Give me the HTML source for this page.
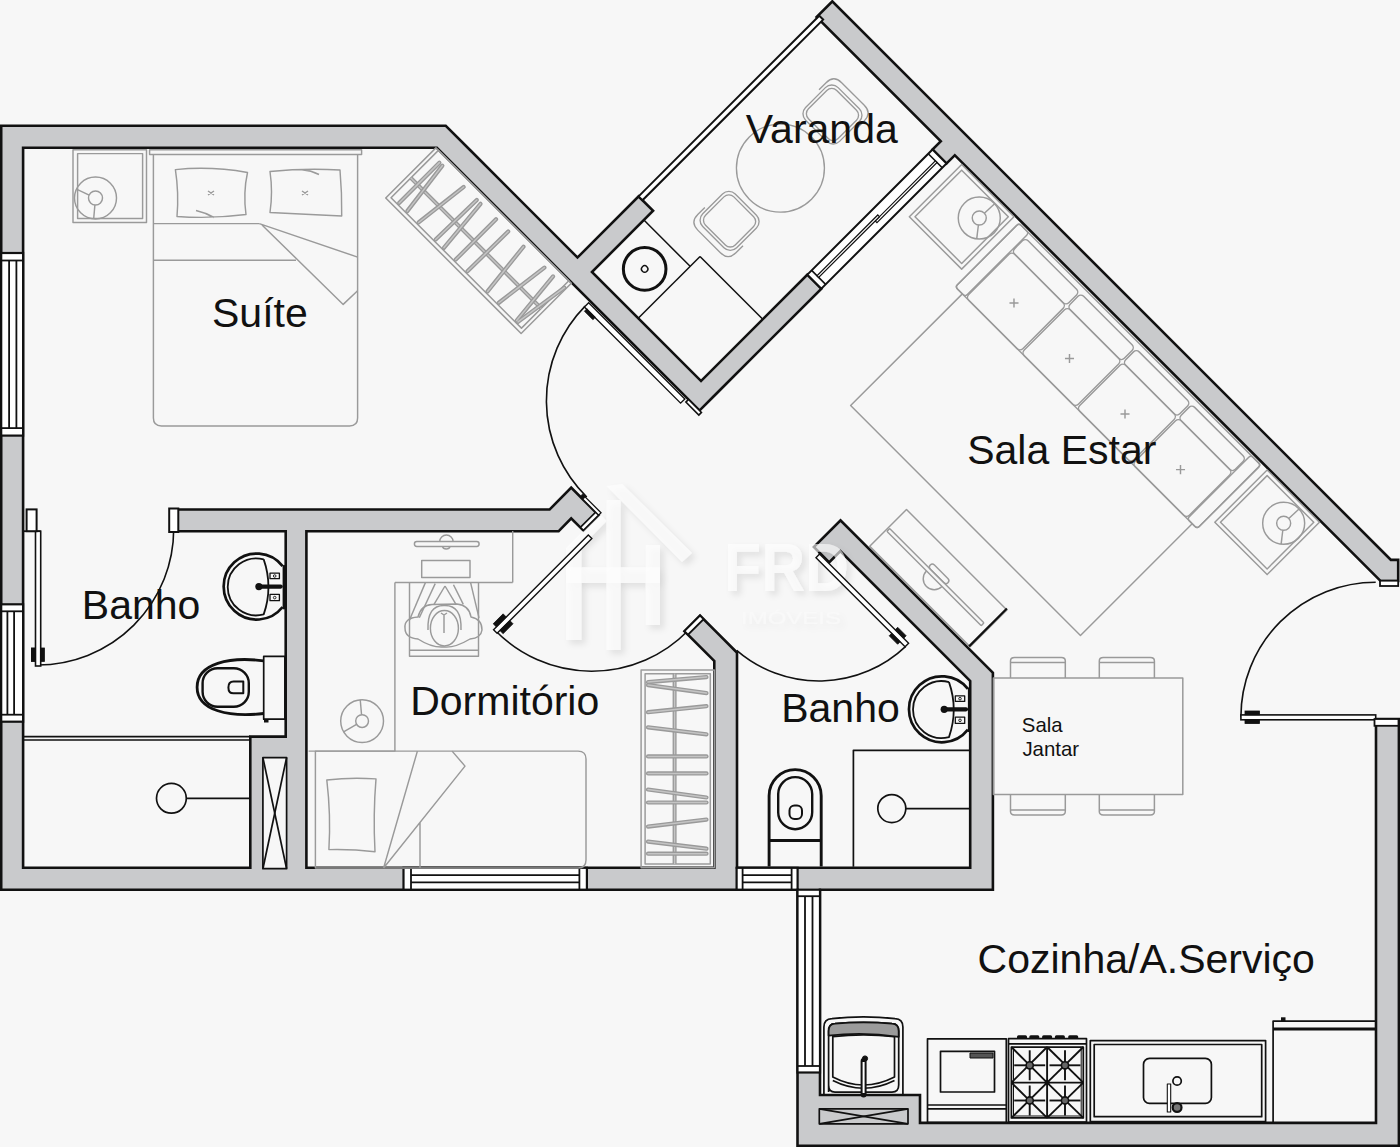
<!DOCTYPE html>
<html><head><meta charset="utf-8"><title>Planta</title>
<style>html,body{margin:0;padding:0;background:#f7f7f7;}body{width:1400px;height:1147px;overflow:hidden;font-family:"Liberation Sans",sans-serif;}svg{display:block;}</style>
</head><body><svg width="1400" height="1147" viewBox="0 0 1400 1147"><path d="M470.95 149.1 L470.95 149.1 L446.25 124.4 L-0.1 124.4 L-0.1 891 L796.2 891 L796.2 1147 L1400.2 1147 L1400.2 717.7 L1374.7 717.7 L1374.7 1121.6 L921.3 1121.6 L921.3 1093.7 L821.3 1093.7 L821.3 891 L994.2 891 L994.2 672.2 L840.53 518.53 L812.03 547.03 L829.15 564.14 L840.32 552.97 L968.9 681.55 L968.9 866.5 L738.3 866.5 L738.3 652.05 L715.22 628.97 L700.03 613.78 L682.63 631.18 L713 661.54 L713 866.5 L307.7 866.5 L307.7 532.5 L559.15 532.5 L571.21 520.15 L583.4 532.34 L600.54 515.2 L571.2 485.86 L549.06 508.2 L172.4 508.2 L172.4 532.5 L284.4 532.5 L284.4 735.3 L249 735.3 L249 866.5 L24.4 866.5 L24.4 149.1 L436.31 149.1 L699.53 412.33 L717.21 394.65 L717.21 394.65 L823.21 288.65 L807.37 272.81 L701.02 379.16 L593.82 271.97 L654.91 210.87 L638.58 194.54 L577.49 255.63 Z M1380.04 582.3 L1399.5 582.3 L1399.5 558.6 L1391.41 558.6 L832.33 -0.48 L814.79 17.05 L938.96 141.22 L930.69 149.49 L946.52 165.33 L954.8 157.06 Z" fill="#111111" fill-rule="evenodd"/><path d="M445.18 127 L2.5 127 L2.5 888.4 L798.8 888.4 L798.8 1144.4 L1397.6 1144.4 L1397.6 720.3 L1377.3 720.3 L1377.3 1124.2 L918.7 1124.2 L918.7 1096.3 L818.7 1096.3 L818.7 888.4 L991.6 888.4 L991.6 673.28 L840.53 522.21 L815.71 547.03 L829.15 560.47 L840.32 549.29 L971.5 680.48 L971.5 869.1 L735.7 869.1 L735.7 653.13 L715.6 633.03 L715.6 633.03 L700.03 617.46 L686.31 631.18 L715.6 660.47 L715.6 869.1 L305.1 869.1 L305.1 529.9 L558.05 529.9 L571.19 516.45 L583.4 528.66 L596.86 515.2 L571.2 489.54 L550.14 510.8 L175 510.8 L175 529.9 L287 529.9 L287 737.9 L251.6 737.9 L251.6 869.1 L21.8 869.1 L21.8 146.5 L437.38 146.5 L699.53 408.65 L712.82 395.36 L712.82 395.36 L819.53 288.65 L807.37 276.49 L701.02 382.84 L590.14 271.97 L651.24 210.87 L638.58 198.21 L577.49 259.31 L466.9 148.72 Z M1381.11 579.7 L1396.9 579.7 L1396.9 561.2 L1390.33 561.2 L832.33 3.19 L818.47 17.05 L942.64 141.22 L934.36 149.49 L946.52 161.66 L954.8 153.38 Z" fill="#c9cacc" fill-rule="evenodd"/><defs><filter id="sh" x="-20%" y="-20%" width="140%" height="140%"><feGaussianBlur in="SourceAlpha" stdDeviation="3.2"/><feOffset dx="4" dy="4" result="b"/><feFlood flood-color="#000" flood-opacity="0.15"/><feComposite in2="b" operator="in"/><feMerge><feMergeNode/><feMergeNode in="SourceGraphic"/></feMerge></filter></defs><g filter="url(#sh)" fill="#ffffff" fill-opacity="0.6" stroke="none"><rect x="566" y="548" width="15.4" height="92"/><rect x="606.5" y="500" width="14.1" height="150"/><rect x="645.8" y="545" width="14.2" height="80"/><rect x="566" y="567.3" width="94" height="15.7"/><polygon points="606.5,486 622.2,484.1 692,553 682,562 620.6,500"/><polygon points="566,548 600,514 606.5,521 581.4,547"/><text x="724" y="591" font-size="68" font-weight="bold" font-family="Liberation Sans" textLength="125" lengthAdjust="spacingAndGlyphs">FRD</text><text x="741" y="624" font-size="16" opacity="0.5" font-family="Liberation Sans" textLength="100" lengthAdjust="spacingAndGlyphs">IMÓVEIS</text></g><rect x="1.2" y="253" width="21.9" height="182.6" fill="#fff" stroke="#111111" stroke-width="2.2"/><line x1="1.2" y1="260.5" x2="23.1" y2="260.5" stroke="#111111" stroke-width="1.8"/><line x1="1.2" y1="428.1" x2="23.1" y2="428.1" stroke="#111111" stroke-width="1.8"/><line x1="9.1" y1="260.5" x2="9.1" y2="428.1" stroke="#111111" stroke-width="1.8"/><line x1="16.4" y1="260.5" x2="16.4" y2="428.1" stroke="#111111" stroke-width="1.8"/><rect x="1.2" y="604.3" width="21.9" height="117.4" fill="#fff" stroke="#111111" stroke-width="2.2"/><line x1="1.2" y1="611.3" x2="23.1" y2="611.3" stroke="#111111" stroke-width="1.8"/><line x1="1.2" y1="714.7" x2="23.1" y2="714.7" stroke="#111111" stroke-width="1.8"/><line x1="7.4" y1="611.3" x2="7.4" y2="714.7" stroke="#111111" stroke-width="1.8"/><line x1="14.1" y1="611.3" x2="14.1" y2="714.7" stroke="#111111" stroke-width="1.8"/><rect x="403.5" y="867.8" width="183.4" height="21.9" fill="#fff" stroke="#111111" stroke-width="2.2"/><line x1="411" y1="867.8" x2="411" y2="889.7" stroke="#111111" stroke-width="1.8"/><line x1="579.4" y1="867.8" x2="579.4" y2="889.7" stroke="#111111" stroke-width="1.8"/><line x1="411" y1="875.1" x2="579.4" y2="875.1" stroke="#111111" stroke-width="1.8"/><line x1="411" y1="882.4" x2="579.4" y2="882.4" stroke="#111111" stroke-width="1.8"/><rect x="736.6" y="867.8" width="61" height="21.9" fill="#fff" stroke="#111111" stroke-width="2.2"/><line x1="742.6" y1="867.8" x2="742.6" y2="889.7" stroke="#111111" stroke-width="1.8"/><line x1="791.6" y1="867.8" x2="791.6" y2="889.7" stroke="#111111" stroke-width="1.8"/><line x1="742.6" y1="875.1" x2="791.6" y2="875.1" stroke="#111111" stroke-width="1.8"/><line x1="742.6" y1="882.4" x2="791.6" y2="882.4" stroke="#111111" stroke-width="1.8"/><rect x="797.5" y="889.7" width="22.5" height="182.8" fill="#fff" stroke="#111111" stroke-width="2.2"/><line x1="797.5" y1="896.2" x2="820" y2="896.2" stroke="#111111" stroke-width="1.8"/><line x1="797.5" y1="1066" x2="820" y2="1066" stroke="#111111" stroke-width="1.8"/><line x1="805" y1="896.2" x2="805" y2="1066" stroke="#111111" stroke-width="1.8"/><line x1="812.5" y1="896.2" x2="812.5" y2="1066" stroke="#111111" stroke-width="1.8"/><polygon points="819.25,15.71 823.13,19.6 642.47,200.26 638.58,196.38" fill="#fff" stroke="#111111" stroke-width="2"/><polygon points="932.52,149.49 946.52,163.5 821.37,288.65 807.37,274.65" fill="#fff" stroke="#111111" stroke-width="2"/><line x1="928.28" y1="153.74" x2="942.28" y2="167.74" stroke="#111111" stroke-width="1.6"/><line x1="811.61" y1="270.41" x2="825.61" y2="284.41" stroke="#111111" stroke-width="1.6"/><polygon points="935.35,160.81 937.05,162.51 876.95,222.61 875.25,220.91" fill="#fff" stroke="#111111" stroke-width="1.2"/><polygon points="877.79,214.97 879.49,216.67 818.68,277.48 816.98,275.78" fill="#fff" stroke="#111111" stroke-width="1.2"/><path d="M37.7 665 A136 136 0 0 0 173.7 529" fill="none" stroke="#111111" stroke-width="1.6"/><rect x="35.5" y="531.2" width="5.2" height="134.8" fill="#fff" stroke="#111111" stroke-width="1.6"/><line x1="23.1" y1="531.2" x2="40.7" y2="531.2" stroke="#111111" stroke-width="1.8"/><rect x="26.6" y="509.4" width="10" height="21.8" fill="#fff" stroke="#111111" stroke-width="2"/><rect x="169.2" y="508.5" width="9.1" height="23.5" fill="#fff" stroke="#111111" stroke-width="2"/><rect x="31.5" y="648" width="4" height="13.4" fill="#111111" stroke="#111111" stroke-width="1"/><path d="M585.11 306.08 A135 135 0 0 0 586.78 496.99" fill="none" stroke="#111111" stroke-width="1.6"/><polygon points="588.66,302.72 684.82,398.89 680.58,403.13 584.42,306.97" fill="#fff" stroke="#111111" stroke-width="1.4"/><path d="M495.04 630.27 A134.6 134.6 0 0 0 687.7 630.94" fill="none" stroke="#111111" stroke-width="1.6"/><polygon points="588.3,535.01 591.84,538.54 497.09,633.3 493.55,629.76" fill="#fff" stroke="#111111" stroke-width="1.4"/><path d="M905.73 646.4 A126 126 0 0 1 736.67 650.38" fill="none" stroke="#111111" stroke-width="1.6"/><polygon points="819.53,554.1 908.62,643.2 905.09,646.73 815.99,557.64" fill="#fff" stroke="#111111" stroke-width="1.4"/><path d="M1240.9 717 A134.8 134.8 0 0 1 1375.7 582.2" fill="none" stroke="#111111" stroke-width="1.6"/><rect x="1240.9" y="714.9" width="134.8" height="4.9" fill="#fff" stroke="#111111" stroke-width="1.6"/><polygon points="595.66,512.1 598.7,515.14 583.43,530.41 580.38,527.37" fill="#fff" stroke="#111111" stroke-width="1.6"/><polygon points="583.85,495.62 601.03,512.81 598.7,515.14 581.52,497.96" fill="#fff" stroke="#111111" stroke-width="1.3"/><polygon points="583,493.64 585.83,496.47 582.65,499.65 579.82,496.83" fill="#111111" stroke="#111111" stroke-width="0.8"/><polygon points="700.03,615.62 703.56,619.15 688.01,634.71 684.47,631.18" fill="#fff" stroke="#111111" stroke-width="1.8"/><polygon points="688.5,399.46 701.44,412.4 698.83,415.01 685.89,402.07" fill="#fff" stroke="#111111" stroke-width="1.6"/><rect x="1380" y="580.7" width="18.2" height="5.3" fill="#fff" stroke="#111111" stroke-width="1.8"/><rect x="1374.5" y="719" width="24" height="6.8" fill="#fff" stroke="#111111" stroke-width="1.8"/><polygon points="503.1,613.85 506.28,617.03 496.38,626.93 493.2,623.75" fill="#111111" stroke="#111111" stroke-width="0.8"/><polygon points="509.82,620.57 513,623.75 503.1,633.65 499.92,630.47" fill="#111111" stroke="#111111" stroke-width="0.8"/><polygon points="586.89,308.74 595.38,317.22 592.9,319.7 584.42,311.21" fill="#111111" stroke="#111111" stroke-width="0.8"/><polygon points="897.66,627.29 906.15,635.77 903.67,638.25 895.19,629.76" fill="#111111" stroke="#111111" stroke-width="0.8"/><polygon points="891.65,633.3 900.14,641.78 897.66,644.26 889.18,635.77" fill="#111111" stroke="#111111" stroke-width="0.8"/><rect x="1245" y="711" width="14.5" height="3.9" fill="#111111" stroke="#111111" stroke-width="0.8"/><rect x="1245" y="719.8" width="14.5" height="3.8" fill="#111111" stroke="#111111" stroke-width="0.8"/><rect x="40.7" y="648" width="3.7" height="13.4" fill="#111111" stroke="#111111" stroke-width="0.8"/><g fill="none" stroke="#9a9a9a" stroke-width="1.45" stroke-linejoin="round"><rect x="73" y="149.8" width="73.5" height="72.7"/><rect x="77.6" y="153.6" width="65" height="64.9"/><circle cx="95.5" cy="198" r="21"/><circle cx="95.5" cy="198" r="7"/><line x1="89.16" y1="195.04" x2="76.47" y2="189.13"/><line x1="94.89" y1="204.97" x2="93.67" y2="218.92"/><rect x="149.6" y="149.8" width="212" height="4.7"/><path d="M153.4 154.5 L153.4 418 Q153.4 425.9 161.4 425.9 L349.6 425.9 Q357.6 425.9 357.6 418 L357.6 154.5"/><line x1="153.4" y1="223.6" x2="259.3" y2="223.6"/><line x1="153.4" y1="260.2" x2="296" y2="260.2"/><path d="M259.3 223.6 L357.6 257.1 M262 225 L343.2 304.4 L357.6 290.7"/><path d="M175.4 169.6 Q211 166 247.5 172.5 Q243 193 246 214.5 Q211 219 177 216.5 Q179 193 175.4 169.6 Z M196 210.5 Q205 212.5 214 217.5"/><path d="M270 171.5 Q305 168 340 170 Q342 193 341.7 216 Q305 214 270 212.5 Q273 192 270 171.5 Z M302 169.8 Q311 170.5 319 174.5"/><path d="M208 191 L214 195 M208 195 L214 191 M302 191 L308 195 M302 195 L308 191"/></g><g transform="translate(956,156) rotate(45)" fill="none" stroke="#999" stroke-width="1.5" stroke-linejoin="round"><rect x="-373.5" y="362" width="191.5" height="71"/><rect x="-370" y="362" width="184.5" height="67"/></g><g transform="translate(956,156) rotate(45)" fill="none" stroke="#9a9a9a" stroke-width="4" stroke-linejoin="round"><line x1="-370" y1="401" x2="-185.5" y2="401"/></g><g transform="translate(956,156) rotate(45)" fill="none" stroke="#c4c4c4" stroke-width="1.4" stroke-linejoin="round"><line x1="-370" y1="401" x2="-185.5" y2="401"/></g><g transform="translate(956,156) rotate(45)" fill="none" stroke="#9a9a9a" stroke-width="4.2" stroke-linejoin="round" stroke-linecap="round"><line x1="-360.6" y1="370" x2="-360.6" y2="427"/><line x1="-356.4" y1="370" x2="-349" y2="427"/><line x1="-326.2" y1="370" x2="-333" y2="427"/><line x1="-307.7" y1="370" x2="-308.9" y2="427"/><line x1="-302.4" y1="370" x2="-297.2" y2="427"/><line x1="-280.5" y1="370" x2="-280.5" y2="427"/><line x1="-263.3" y1="370" x2="-263.9" y2="427"/><line x1="-241.7" y1="370" x2="-235.5" y2="427"/><line x1="-212.1" y1="370" x2="-219.5" y2="427"/><line x1="-199.8" y1="370" x2="-194.3" y2="427"/><line x1="-183.8" y1="370" x2="-192.4" y2="427"/></g><g transform="translate(956,156) rotate(45)" fill="none" stroke="#c4c4c4" stroke-width="1.5" stroke-linejoin="round" stroke-linecap="round"><line x1="-360.6" y1="370" x2="-360.6" y2="427"/><line x1="-356.4" y1="370" x2="-349" y2="427"/><line x1="-326.2" y1="370" x2="-333" y2="427"/><line x1="-307.7" y1="370" x2="-308.9" y2="427"/><line x1="-302.4" y1="370" x2="-297.2" y2="427"/><line x1="-280.5" y1="370" x2="-280.5" y2="427"/><line x1="-263.3" y1="370" x2="-263.9" y2="427"/><line x1="-241.7" y1="370" x2="-235.5" y2="427"/><line x1="-212.1" y1="370" x2="-219.5" y2="427"/><line x1="-199.8" y1="370" x2="-194.3" y2="427"/><line x1="-183.8" y1="370" x2="-192.4" y2="427"/></g><g fill="none" stroke="#9a9a9a" stroke-width="1.45" stroke-linejoin="round"><line x1="512.7" y1="531" x2="512.7" y2="582.5"/><line x1="394.9" y1="582.5" x2="512.7" y2="582.5"/><line x1="394.9" y1="582.5" x2="394.9" y2="751.1"/><rect x="414.4" y="541.5" width="64.7" height="4.9" rx="2.4"/><path d="M439.7 541.5 A6.7 6.5 0 0 1 453.1 541.5"/><path d="M442.5 546.4 A3.8 3.2 0 0 0 450 546.4"/><rect x="421.7" y="560.4" width="48.3" height="17.1"/><path d="M409.5 582.4 L409.5 656.3 L478.5 656.3 L478.5 582.4"/><line x1="409.5" y1="650.2" x2="478.5" y2="650.2"/><path d="M405 628 Q404 618 418 617 Q421 605 432 604.5 L457 604 Q469 605 471 617 Q482 619 482 630 Q481 638 470 639 Q455 648 444 647 Q432 648 418 639 Q405 638 405 628 Z"/><ellipse cx="444.4" cy="628.2" rx="14" ry="17.7"/><path d="M428 630 Q427 605 444.4 605.5 Q462 605 461 630"/><line x1="409.5" y1="620" x2="425.4" y2="582.6"/><line x1="419.3" y1="617.8" x2="435.2" y2="583.6"/><line x1="479" y1="617.8" x2="470.6" y2="582.6"/><line x1="463.3" y1="604.4" x2="453.5" y2="584.8"/><line x1="434" y1="604.4" x2="445" y2="586"/><line x1="456" y1="604.4" x2="445" y2="586"/><path d="M441 613 L444 615 L447 613 M444 615 L444 633"/><circle cx="362.1" cy="721.1" r="21.4"/><circle cx="362.1" cy="721.1" r="6.4"/><line x1="356.56" y1="724.3" x2="343.57" y2="731.8"/><line x1="361.54" y1="714.72" x2="360.23" y2="699.78"/><line x1="308.6" y1="751.1" x2="395.4" y2="751.1"/><path d="M315.4 751.1 L578 751.1 Q586 751.1 586 759 L586 860 Q586 868 578 868 L315.4 868 Z"/><path d="M326.8 780 Q351 777 376 778.9 Q373 815 375 851.8 Q352 849 328.9 849.6 Q331 815 326.8 780 Z"/><path d="M417.4 751.1 L383.6 868 M452.1 751.1 L465 766.1 L383.6 868 M420 822.8 L420 868"/></g><g fill="none" stroke="#9c9c9c" stroke-width="1.5" stroke-linejoin="round"><rect x="641.1" y="670" width="73.2" height="197.7"/><rect x="645.1" y="673.7" width="65.2" height="190.3"/></g><g fill="none" stroke="#9a9a9a" stroke-width="4" stroke-linejoin="round"><line x1="674.6" y1="673.7" x2="674.6" y2="864"/></g><g fill="none" stroke="#c4c4c4" stroke-width="1.4" stroke-linejoin="round"><line x1="674.6" y1="673.7" x2="674.6" y2="864"/></g><g fill="none" stroke="#9a9a9a" stroke-width="4.2" stroke-linejoin="round" stroke-linecap="round"><line x1="648" y1="682.1" x2="706.5" y2="677.1"/><line x1="648" y1="685.1" x2="706.5" y2="693.1"/><line x1="648" y1="712.2" x2="706.5" y2="706.2"/><line x1="648" y1="727.3" x2="706.5" y2="734.3"/><line x1="648" y1="756.4" x2="706.5" y2="756.4"/><line x1="648" y1="773.4" x2="706.5" y2="773.4"/><line x1="648" y1="789.5" x2="706.5" y2="797.5"/><line x1="648" y1="802.5" x2="706.5" y2="802.5"/><line x1="648" y1="826.6" x2="706.5" y2="819.6"/><line x1="648" y1="841.6" x2="706.5" y2="848.7"/><line x1="648" y1="853.7" x2="706.5" y2="853.7"/></g><g fill="none" stroke="#c4c4c4" stroke-width="1.5" stroke-linejoin="round" stroke-linecap="round"><line x1="648" y1="682.1" x2="706.5" y2="677.1"/><line x1="648" y1="685.1" x2="706.5" y2="693.1"/><line x1="648" y1="712.2" x2="706.5" y2="706.2"/><line x1="648" y1="727.3" x2="706.5" y2="734.3"/><line x1="648" y1="756.4" x2="706.5" y2="756.4"/><line x1="648" y1="773.4" x2="706.5" y2="773.4"/><line x1="648" y1="789.5" x2="706.5" y2="797.5"/><line x1="648" y1="802.5" x2="706.5" y2="802.5"/><line x1="648" y1="826.6" x2="706.5" y2="819.6"/><line x1="648" y1="841.6" x2="706.5" y2="848.7"/><line x1="648" y1="853.7" x2="706.5" y2="853.7"/></g><g transform="translate(956,156) rotate(45)" fill="none" stroke="#9a9a9a" stroke-width="1.35" stroke-linejoin="round"><circle cx="-115.6" cy="132.7" r="44"/><rect x="-140.7" y="35" width="48" height="46" rx="9"/><rect x="-137.7" y="38" width="42" height="40" rx="7"/><path d="M-143.7 50 L-143.7 40 Q-143.7 29 -132.7 29 L-100.7 29 Q-89.7 29 -89.7 40 L-89.7 50"/><rect x="-138.2" y="183" width="48" height="46" rx="9"/><rect x="-135.2" y="186" width="42" height="40" rx="7"/><path d="M-141.2 214 L-141.2 224 Q-141.2 235 -130.2 235 L-98.2 235 Q-87.2 235 -87.2 224 L-87.2 214"/></g><g transform="translate(956,156) rotate(45)" fill="none" stroke="#111111" stroke-width="1.5" stroke-linejoin="round"><line x1="-175.4" y1="266" x2="-110" y2="266"/><line x1="-110" y1="252" x2="-110" y2="338.7"/><line x1="-110" y1="252" x2="-21.2" y2="252"/></g><g transform="translate(956,156) rotate(45)" fill="none" stroke="#111111" stroke-width="3" stroke-linejoin="round"><circle cx="-140.3" cy="300" r="21.3"/></g><g transform="translate(956,156) rotate(45)" fill="none" stroke="#111111" stroke-width="1.4" stroke-linejoin="round"><circle cx="-140.3" cy="300" r="3.2"/></g><g transform="translate(956,156) rotate(45)" fill="none" stroke="#9a9a9a" stroke-width="1.45" stroke-linejoin="round"><rect x="10" y="2" width="74" height="74"/><rect x="14" y="6" width="66" height="66"/><rect x="442" y="2" width="74" height="74"/><rect x="446" y="6" width="66" height="66"/><circle cx="60.3" cy="27.4" r="21"/><circle cx="60.3" cy="27.4" r="7"/><line x1="60.54" y1="20.4" x2="61.03" y2="6.41"/><line x1="64.61" y1="32.92" x2="73.23" y2="43.95"/><circle cx="491.4" cy="28" r="21"/><circle cx="491.4" cy="28" r="7"/><line x1="491.64" y1="21" x2="492.13" y2="7.01"/><line x1="495.71" y1="33.52" x2="504.33" y2="44.55"/><rect x="92" y="3" width="342" height="90" rx="3"/><rect x="92" y="3" width="14" height="90" rx="3"/><rect x="420" y="3" width="14" height="90" rx="3"/><rect x="107" y="9" width="76.5" height="19" rx="4"/><rect x="107" y="28" width="76.5" height="65" rx="4"/><line x1="141.8" y1="59.8" x2="148.2" y2="66.2"/><line x1="141.8" y1="66.2" x2="148.2" y2="59.8"/><rect x="185.5" y="9" width="76.5" height="19" rx="4"/><rect x="185.5" y="28" width="76.5" height="65" rx="4"/><line x1="220.3" y1="59.8" x2="226.7" y2="66.2"/><line x1="220.3" y1="66.2" x2="226.7" y2="59.8"/><rect x="264" y="9" width="76.5" height="19" rx="4"/><rect x="264" y="28" width="76.5" height="65" rx="4"/><line x1="298.8" y1="59.8" x2="305.2" y2="66.2"/><line x1="298.8" y1="66.2" x2="305.2" y2="59.8"/><rect x="342.5" y="9" width="76.5" height="19" rx="4"/><rect x="342.5" y="28" width="76.5" height="65" rx="4"/><line x1="377.3" y1="59.8" x2="383.7" y2="66.2"/><line x1="377.3" y1="66.2" x2="383.7" y2="59.8"/><path d="M102 93 L102 251 L427 251 L427 93"/><rect x="215" y="285" width="142" height="52"/><rect x="216.5" y="310.3" width="133.5" height="4" rx="1"/><rect x="271" y="304.5" width="25" height="5.8" rx="3"/><path d="M272.5 314.3 A11 11 0 0 0 294.5 314.3"/></g><g transform="translate(956,156) rotate(45)" fill="none" stroke="#111111" stroke-width="2.2" stroke-linejoin="round"><line x1="356" y1="284" x2="356" y2="337.5"/></g><g fill="none" stroke="#9a9a9a" stroke-width="1.5" stroke-linejoin="round"><rect x="993.4" y="678.1" width="189.4" height="116.4"/><path d="M1010.5 678.1 L1010.5 661 Q1010.5 657.6 1014.5 657.6 L1061.3 657.6 Q1065.3 657.6 1065.3 661 L1065.3 678.1"/><line x1="1010.5" y1="662.5" x2="1065.3" y2="662.5"/><path d="M1010.5 794.5 L1010.5 811.6 Q1010.5 815 1014.5 815 L1061.3 815 Q1065.3 815 1065.3 811.6 L1065.3 794.5"/><line x1="1010.5" y1="810" x2="1065.3" y2="810"/><path d="M1099.3 678.1 L1099.3 661 Q1099.3 657.6 1103.3 657.6 L1150.4 657.6 Q1154.4 657.6 1154.4 661 L1154.4 678.1"/><line x1="1099.3" y1="662.5" x2="1154.4" y2="662.5"/><path d="M1099.3 794.5 L1099.3 811.6 Q1099.3 815 1103.3 815 L1150.4 815 Q1154.4 815 1154.4 811.6 L1154.4 794.5"/><line x1="1099.3" y1="810" x2="1154.4" y2="810"/></g><g fill="none" stroke="#111111" stroke-width="2.7" stroke-linejoin="round"><path d="M282.6 566.2 A33 33 0 1 0 282.6 607"/></g><g fill="none" stroke="#111111" stroke-width="1.8" stroke-linejoin="round"><path d="M263.7 559.4 A28.5 28.5 0 1 0 263.7 614.4 Q273.2 586.9 263.7 559.4"/></g><g fill="none" stroke="#111111" stroke-width="1.3" stroke-linejoin="round"><rect x="270" y="573.2" width="9.4" height="5.5"/><rect x="270" y="594.4" width="9.4" height="6.3"/></g><g fill="none" stroke="#111111" stroke-width="0.9" stroke-linejoin="round"><circle cx="274.7" cy="576" r="1.3"/><circle cx="274.7" cy="597.6" r="1.3"/></g><g fill="none" stroke="#111111" stroke-width="4.2" stroke-linejoin="round" stroke-linecap="round"><line x1="259.2" y1="586.6" x2="280.7" y2="586.6"/></g><g fill="#111111" stroke="none" stroke-width="1.45" stroke-linejoin="round"><circle cx="258.9" cy="586.6" r="3.6"/></g><g fill="#111111" stroke="none" stroke-width="1.45" stroke-linejoin="round"><rect x="282.6" y="565.1" width="3.1" height="44.2"/></g><g fill="none" stroke="#111111" stroke-width="2.7" stroke-linejoin="round"><path d="M967.9 688.9 A33 33 0 1 0 967.9 729.7"/></g><g fill="none" stroke="#111111" stroke-width="1.8" stroke-linejoin="round"><path d="M949 682.1 A28.5 28.5 0 1 0 949 737.1 Q958.5 709.6 949 682.1"/></g><g fill="none" stroke="#111111" stroke-width="1.3" stroke-linejoin="round"><rect x="955.3" y="695.9" width="9.4" height="5.5"/><rect x="955.3" y="717.1" width="9.4" height="6.3"/></g><g fill="none" stroke="#111111" stroke-width="0.9" stroke-linejoin="round"><circle cx="960" cy="698.7" r="1.3"/><circle cx="960" cy="720.3" r="1.3"/></g><g fill="none" stroke="#111111" stroke-width="4.2" stroke-linejoin="round" stroke-linecap="round"><line x1="944.5" y1="709.3" x2="966" y2="709.3"/></g><g fill="#111111" stroke="none" stroke-width="1.45" stroke-linejoin="round"><circle cx="944.2" cy="709.3" r="3.6"/></g><g fill="#111111" stroke="none" stroke-width="1.45" stroke-linejoin="round"><rect x="967.9" y="687.8" width="3.1" height="44.2"/></g><g fill="none" stroke="#111111" stroke-width="1.7" stroke-linejoin="round"><rect x="263.7" y="656.4" width="21.2" height="62.8"/></g><g fill="none" stroke="#111111" stroke-width="2.8" stroke-linejoin="round"><path d="M263.7 660.8 C230 656.5 197.1 663 197.1 687.2 C197.1 711 230 717.5 263.7 713.5"/></g><g fill="none" stroke="#111111" stroke-width="2.4" stroke-linejoin="round"><rect x="202.6" y="668.3" width="46.2" height="38.5" rx="15"/></g><g fill="none" stroke="#111111" stroke-width="2.0" stroke-linejoin="round"><path d="M243.3 681.5 L233.5 681.5 Q228.4 681.5 228.4 687.4 Q228.4 693.3 233.5 693.3 L243.3 693.3 Z"/></g><g fill="#111111" stroke="none" stroke-width="1.45" stroke-linejoin="round"><rect x="264" y="719.2" width="4.5" height="3.3"/></g><g fill="none" stroke="#111111" stroke-width="1.7" stroke-linejoin="round"><line x1="23.1" y1="740" x2="250.3" y2="740"/><line x1="23.1" y1="736.6" x2="250.3" y2="736.6"/><circle cx="171.4" cy="798.3" r="14.9"/><line x1="186.3" y1="798.3" x2="250.3" y2="798.3"/></g><g fill="#f7f7f7" stroke="none" stroke-width="1.45" stroke-linejoin="round"><rect x="262.9" y="757.6" width="23.7" height="111.1"/></g><g fill="none" stroke="#111111" stroke-width="1.7" stroke-linejoin="round"><rect x="262.9" y="757.6" width="23.7" height="111.1"/><line x1="262.9" y1="757.6" x2="286.6" y2="868.7"/><line x1="286.6" y1="757.6" x2="262.9" y2="868.7"/></g><g fill="none" stroke="#111111" stroke-width="1.7" stroke-linejoin="round"><path d="M853.4 866.8 L853.4 750.3 L970.2 750.3"/><circle cx="891.8" cy="808.6" r="14"/><line x1="905.8" y1="808.6" x2="970.2" y2="808.6"/></g><g fill="none" stroke="#111111" stroke-width="2.9" stroke-linejoin="round"><path d="M769.1 866.6 L769.1 795.7 A26.05 26.05 0 0 1 821.2 795.7 L821.2 866.6"/><line x1="769.1" y1="840.5" x2="821.2" y2="840.5"/></g><g fill="none" stroke="#111111" stroke-width="2.4" stroke-linejoin="round"><rect x="778.2" y="777.1" width="34" height="52.1" rx="17"/></g><g fill="none" stroke="#111111" stroke-width="2.0" stroke-linejoin="round"><rect x="789.5" y="805.4" width="12.5" height="13.6" rx="5"/></g><g fill="none" stroke="#111111" stroke-width="1.7" stroke-linejoin="round"><path d="M823.9 1095.8 L823.9 1027 Q823.9 1019 832 1018.6 Q863.4 1015 895 1018.6 Q902.9 1019 902.9 1027 L902.9 1095.8"/><path d="M828.6 1092.1 Q828.6 1085 828.6 1031 Q828.6 1023.8 835 1023.6 Q863.4 1021 892 1023.6 Q898.7 1023.8 898.7 1031 L898.7 1085 Q898.7 1092.1 892 1092.1 L835 1092.1 Q828.6 1092.1 828.6 1085"/><path d="M832.8 1036.6 Q863.4 1033 894.5 1036.6 L894.5 1077 Q863.4 1093 832.8 1077 Z"/><path d="M832.8 1080.5 Q863.4 1096 894.5 1080.5"/><rect x="927.5" y="1038.8" width="78.8" height="83.7"/><rect x="940.5" y="1051.3" width="54" height="40.7"/><line x1="927.5" y1="1105" x2="1006.3" y2="1105"/><line x1="927.5" y1="1108.8" x2="1006.3" y2="1108.8"/><rect x="1008.5" y="1038.7" width="78" height="83.3"/><line x1="1008.5" y1="1043.8" x2="1086.5" y2="1043.8"/><rect x="1011.4" y="1047" width="71.9" height="70.9"/><rect x="1090.3" y="1040.6" width="175.3" height="81.1"/><rect x="1094.2" y="1044.5" width="167.5" height="72.2"/><rect x="1143.5" y="1058.4" width="67.9" height="45" rx="6"/><circle cx="1177.1" cy="1081" r="4.2"/><rect x="1273.1" y="1021.1" width="102.9" height="101.8"/><rect x="819.3" y="1108.8" width="88.7" height="15"/><line x1="819.3" y1="1108.8" x2="908" y2="1123.8"/><line x1="908" y1="1108.8" x2="819.3" y2="1123.8"/></g><g fill="none" stroke="#111111" stroke-width="1.9" stroke-linejoin="round"><line x1="1011.4" y1="1047" x2="1047.1" y2="1082.6"/><line x1="1011.4" y1="1082.6" x2="1047.1" y2="1047"/><line x1="1011.4" y1="1082.6" x2="1047.1" y2="1117.9"/><line x1="1011.4" y1="1117.9" x2="1047.1" y2="1082.6"/><line x1="1047.1" y1="1047" x2="1083.3" y2="1082.6"/><line x1="1047.1" y1="1082.6" x2="1083.3" y2="1047"/><line x1="1047.1" y1="1082.6" x2="1083.3" y2="1117.9"/><line x1="1047.1" y1="1117.9" x2="1083.3" y2="1082.6"/><line x1="1014.2" y1="1065.3" x2="1045.2" y2="1065.3"/><line x1="1029.7" y1="1050.3" x2="1029.7" y2="1080.3"/><line x1="1014.2" y1="1100.5" x2="1045.2" y2="1100.5"/><line x1="1029.7" y1="1085.5" x2="1029.7" y2="1115.5"/><line x1="1049.5" y1="1065.3" x2="1080.5" y2="1065.3"/><line x1="1065" y1="1050.3" x2="1065" y2="1080.3"/><line x1="1049.5" y1="1100.5" x2="1080.5" y2="1100.5"/><line x1="1065" y1="1085.5" x2="1065" y2="1115.5"/><line x1="1011.4" y1="1082.6" x2="1083.3" y2="1082.6"/><line x1="1047.1" y1="1047" x2="1047.1" y2="1117.9"/></g><g fill="#666" stroke="#111111" stroke-width="1.6" stroke-linejoin="round"><circle cx="1029.7" cy="1065.3" r="3.6"/><circle cx="1029.7" cy="1100.5" r="3.6"/><circle cx="1065" cy="1065.3" r="3.6"/><circle cx="1065" cy="1100.5" r="3.6"/></g><g fill="#111111" stroke="none" stroke-width="1.45" stroke-linejoin="round"><circle cx="1047.1" cy="1082.6" r="2.5"/></g><g fill="none" stroke="#111111" stroke-width="1.0" stroke-linejoin="round"><rect x="1013.5" y="1047.5" width="67.7" height="68.5"/></g><g fill="#111111" stroke="none" stroke-width="1.45" stroke-linejoin="round"><rect x="1017" y="1035.3" width="10" height="3.7" rx="1.5"/><rect x="1029.3" y="1035.3" width="10" height="3.7" rx="1.5"/><rect x="1042.1" y="1035.3" width="10" height="3.7" rx="1.5"/><rect x="1054.9" y="1035.3" width="10" height="3.7" rx="1.5"/><rect x="1068.2" y="1035.3" width="10" height="3.7" rx="1.5"/></g><g fill="none" stroke="#111111" stroke-width="3" stroke-linejoin="round"><line x1="1273.1" y1="1029.1" x2="1376" y2="1029.1"/></g><g fill="#555" stroke="#111111" stroke-width="1" stroke-linejoin="round"><rect x="970" y="1053" width="23" height="5"/></g><g fill="#9b9b9b" stroke="#111111" stroke-width="1.8" stroke-linejoin="round"><path d="M828.6 1035.6 Q863.4 1031.5 898.7 1036.8 L898.7 1031 Q898.7 1023.8 892 1023.6 Q863.4 1021 835 1023.6 Q828.6 1023.8 828.6 1031 Z"/></g><g fill="none" stroke="#111111" stroke-width="6" stroke-linejoin="round" stroke-linecap="round"><line x1="863.6" y1="1061" x2="863.6" y2="1094.5"/></g><g fill="#fff" stroke="#111111" stroke-width="1.1" stroke-linejoin="round"><rect x="1167.3" y="1084" width="3.4" height="28"/></g><g fill="#777" stroke="#111111" stroke-width="2.2" stroke-linejoin="round"><circle cx="1177.1" cy="1107.5" r="4.4"/></g><g fill="#111111" stroke="none" stroke-width="1.45" stroke-linejoin="round"><rect x="1281" y="1017.3" width="4.5" height="3.8"/></g><g fill="none" stroke="#fff" stroke-width="2" stroke-linejoin="round"><line x1="863.6" y1="1062" x2="863.6" y2="1093"/></g><g fill="#111111" stroke="#111111" stroke-width="1" stroke-linejoin="round"><circle cx="865" cy="1058.5" r="2.6"/></g><g fill="#111111" font-family="Liberation Sans"><text x="212" y="327.3" font-size="41" text-anchor="start">Suíte</text><text x="81.8" y="619.3" font-size="41" text-anchor="start">Banho</text><text x="410.2" y="715.3" font-size="41" text-anchor="start">Dormitório</text><text x="781.2" y="722.3" font-size="41" text-anchor="start">Banho</text><text x="745.8" y="142.8" font-size="41" text-anchor="start">Varanda</text><text x="967.2" y="463.8" font-size="41" text-anchor="start">Sala Estar</text><text x="977.6" y="973.3" font-size="41" text-anchor="start">Cozinha/A.Serviço</text><text x="1021.8" y="731.6" font-size="20.4" text-anchor="start">Sala</text><text x="1022.4" y="755.8" font-size="20.4" text-anchor="start">Jantar</text></g></svg></body></html>
